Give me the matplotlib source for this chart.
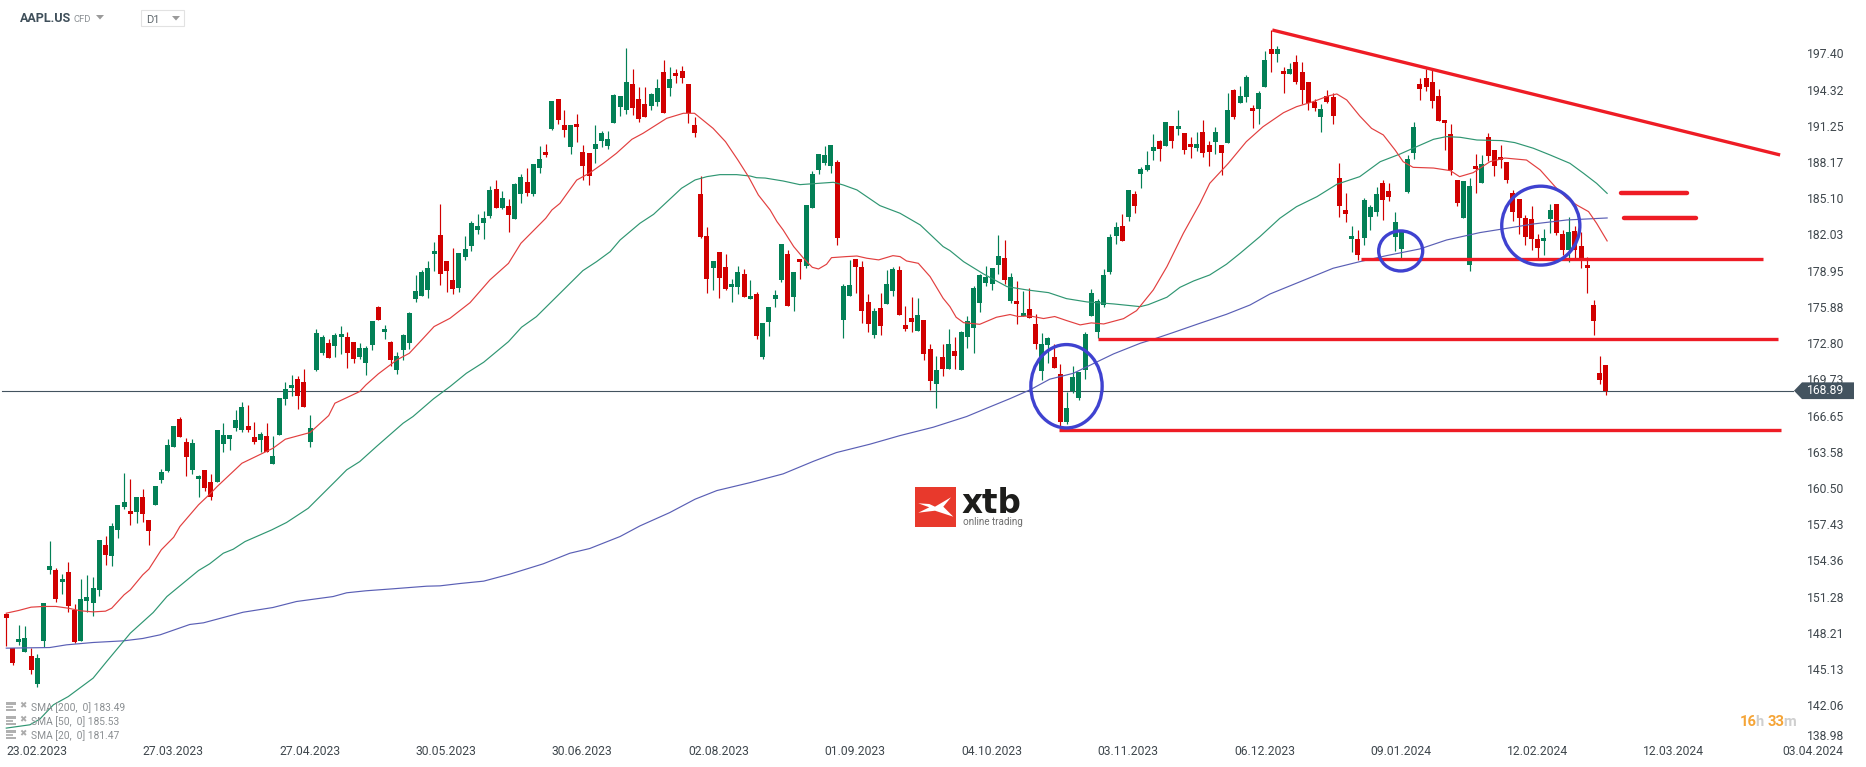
import matplotlib
matplotlib.use("Agg")
import matplotlib.pyplot as plt
from matplotlib.patches import Ellipse, Polygon, Rectangle
from matplotlib.transforms import blended_transform_factory

plt.rcParams['font.family'] = ['Roboto', 'DejaVu Sans']

opens = [149.94,147.03,147.59,146.72,146.38,144.0,147.65,153.68,153.68,152.66,
153.51,150.28,147.65,151.05,150.88,151.98,155.8,154.87,157.07,159.02,
158.69,158.6,159.87,157.92,159.2,161.32,162.08,164.12,166.5,164.55,
162.17,161.4,162.17,161.15,161.15,164.37,164.8,165.73,165.56,165.9,
164.97,164.71,165.05,162.68,165.14,168.2,169.13,169.89,169.64,164.55,
170.66,172.1,172.95,172.7,173.46,173.46,173.03,171.76,171.25,172.78,
176.0,173.88,173.03,170.66,172.35,172.95,176.68,176.94,177.45,180.5,
182.12,179.91,178.3,177.62,180.25,181.18,182.54,183.13,183.73,186.02,
184.41,184.58,183.47,185.6,186.62,185.6,187.8,189.16,191.11,193.66,
191.45,189.59,191.54,189.16,189.08,189.42,190.1,189.67,191.62,192.98,
192.73,194.94,193.66,193.24,193.07,193.41,195.95,194.6,195.87,196.04,
194.94,191.45,185.6,182.03,179.31,180.67,179.4,177.7,177.7,178.8,
176.68,177.11,171.76,174.73,176.68,178.3,180.5,176.85,180.08,179.48,
184.41,187.63,188.23,187.97,188.31,174.9,176.94,180.08,179.4,176.43,
173.63,175.92,176.26,177.36,179.15,174.48,175.07,173.97,174.9,172.44,
169.47,171.76,170.74,172.27,170.66,173.46,174.22,176.35,178.04,177.96,
179.57,180.17,176.52,176.52,175.24,175.84,174.56,170.57,172.78,171.76,
170.32,166.24,168.87,168.28,170.66,175.24,173.88,176.18,178.98,182.03,
182.88,183.65,185.6,187.3,187.64,189.25,190.1,189.68,191.37,191.12,
190.78,189.85,189.51,190.86,189.76,190.02,189.76,189.93,194.43,193.32,
193.83,192.9,192.81,194.68,197.91,197.48,196.04,195.79,196.8,195.96,
195.11,193.41,192.13,193.92,193.83,186.96,184.24,181.78,181.78,181.86,
183.65,184.07,186.53,185.85,181.95,180.93,185.77,189.08,194.94,195.45,
195.11,193.92,191.88,190.69,186.79,183.56,179.57,187.97,186.53,190.44,
189.33,188.74,188.31,185.68,185.17,183.56,183.47,181.78,181.61,183.47,
184.75,182.2,180.84,182.46,181.18,179.57,176.17,170.4,171.08]

closes = [149.55,145.81,147.82,147.91,145.19,146.21,150.88,154.02,151.22,152.91,
150.62,147.54,151.22,151.39,152.15,156.23,154.95,157.41,159.2,159.45,
158.43,159.87,158.43,156.99,160.81,161.99,164.29,165.9,164.97,163.27,
164.46,161.66,160.64,159.87,165.56,165.14,165.14,166.41,167.52,165.56,
164.55,165.22,163.7,163.36,168.28,169.04,169.38,168.45,167.52,165.73,
173.8,173.46,171.68,173.63,173.71,172.1,171.6,172.52,172.52,174.82,
174.9,174.14,171.51,171.85,173.63,175.5,177.36,178.98,179.32,180.76,
178.81,179.06,177.53,180.59,180.93,183.13,182.88,183.56,185.94,184.41,
185.26,183.81,186.45,187.04,185.68,188.14,188.57,188.91,193.49,191.88,
191.03,191.45,191.28,187.97,187.12,189.84,190.77,190.27,194.0,193.92,
195.1,192.9,191.96,192.13,194.09,194.6,192.47,195.36,195.61,195.45,
192.47,190.77,181.95,178.38,179.91,178.46,177.53,177.96,178.97,176.85,
176.94,173.54,174.64,176.0,177.02,181.35,176.09,178.97,179.82,184.66,
187.29,188.99,188.91,189.76,181.86,177.79,177.87,179.4,175.66,174.56,
175.66,174.39,177.96,179.23,175.33,174.14,174.73,175.33,172.02,169.72,
170.66,170.74,172.86,171.85,173.88,174.82,177.62,178.72,178.55,179.32,
180.34,178.3,178.55,176.26,175.5,175.07,172.86,172.86,173.37,170.83,
166.24,167.43,170.06,170.49,173.71,177.19,176.52,178.72,181.95,182.8,
181.61,185.94,184.58,187.72,188.06,189.59,189.42,191.71,190.1,191.37,
189.34,189.59,189.85,189.08,189.17,190.86,189.08,192.73,192.13,193.92,
195.53,192.64,194.17,196.97,197.48,197.91,195.79,196.21,195.11,194.43,
193.32,192.9,192.81,193.41,192.22,184.58,183.9,182.03,180.42,185.09,
184.49,185.6,185.09,185.34,183.22,182.37,188.57,191.29,194.51,194.68,
193.49,191.8,191.63,187.64,184.83,186.7,186.28,187.72,188.14,188.82,
187.97,188.48,186.79,184.07,183.56,181.95,181.78,181.01,181.86,184.24,
182.29,180.84,182.37,180.84,179.99,179.32,174.81,169.81,168.89]

highs = [150.0,147.03,149.01,148.92,147.06,146.55,150.88,156.14,153.85,153.34,
154.36,150.79,152.91,153.25,153.08,156.23,156.57,157.67,159.2,161.91,
161.4,159.87,160.55,157.92,160.81,162.25,164.8,165.9,166.67,164.89,
164.8,161.74,162.17,161.83,165.56,166.16,165.14,167.26,167.94,167.69,
166.24,165.4,166.16,165.05,168.28,169.64,170.23,170.15,170.74,166.84,
174.14,173.63,173.29,173.8,174.39,173.88,173.03,172.95,172.7,174.82,
176.09,174.48,173.12,172.18,173.71,175.58,178.72,179.15,179.91,181.52,
184.75,179.91,181.01,180.59,182.03,183.3,183.9,184.15,186.28,186.79,
185.85,185.17,186.53,187.3,187.8,188.14,189.67,189.84,193.49,193.66,
192.73,191.45,192.39,189.76,189.08,191.45,190.95,190.95,194.09,193.92,
197.99,196.21,194.68,194.68,194.17,195.36,196.97,196.38,196.21,196.46,
194.94,192.13,187.12,182.79,179.91,180.67,180.5,178.38,179.48,179.23,
178.3,177.28,174.64,176.0,177.45,181.35,180.84,178.97,180.08,184.66,
187.55,188.99,189.67,189.76,188.48,177.96,179.99,180.08,179.91,177.11,
175.92,177.19,179.14,179.4,179.49,176.09,176.85,176.77,174.9,172.86,
171.85,172.86,174.14,173.46,174.0,175.24,177.79,178.8,179.49,179.32,
182.12,181.69,178.89,178.21,177.36,177.62,175.41,173.8,173.46,172.86,
171.17,168.79,171.0,170.49,173.88,177.53,176.68,179.23,182.2,183.22,
183.9,185.94,185.86,187.89,189.25,190.69,190.19,191.71,191.37,192.73,
190.78,190.44,190.86,191.88,190.1,191.29,189.76,194.17,194.51,194.77,
195.7,193.15,194.34,197.74,199.52,198.16,196.38,196.72,197.4,196.8,
195.11,193.66,193.24,194.43,194.17,188.23,185.68,182.88,182.54,185.26,
184.66,186.19,186.79,186.53,184.07,182.37,188.91,191.71,195.45,196.21,
196.12,194.51,191.88,191.54,186.79,186.7,186.96,188.99,188.91,190.78,
189.33,189.76,188.31,185.94,185.17,183.81,184.58,182.2,182.63,184.75,
184.75,182.54,183.65,182.88,182.37,180.25,176.6,171.84,171.08]

lows = [147.17,145.61,147.31,146.72,144.85,143.75,147.14,153.34,150.96,151.64,
150.11,147.45,147.65,150.11,149.77,151.47,154.1,154.02,156.4,158.85,
157.5,157.67,157.75,155.8,159.2,161.06,161.99,164.12,164.97,161.66,
161.83,159.87,160.38,159.62,161.15,163.7,163.87,165.48,165.4,165.4,
164.37,163.7,163.7,162.68,165.14,167.69,168.45,167.35,167.52,164.12,
170.57,171.93,171.68,171.76,172.0,170.83,171.25,171.6,170.23,172.35,
174.9,173.29,171.0,170.32,171.51,172.44,176.43,176.94,176.77,179.06,
177.87,177.28,177.11,177.28,180.0,180.76,182.2,181.78,183.56,184.41,
184.32,182.37,183.47,184.83,185.43,185.43,187.38,188.74,191.03,191.54,
190.44,189.0,190.01,186.79,186.36,188.23,189.59,189.42,191.62,192.22,
192.39,192.3,191.71,192.13,192.73,193.07,192.47,193.92,195.02,195.02,
191.62,190.44,181.86,177.19,177.45,176.77,177.45,176.43,177.11,176.85,
176.68,173.29,171.59,173.54,176.0,178.13,176.09,175.66,178.38,179.31,
184.41,187.29,188.06,187.38,181.27,173.37,176.94,177.19,174.64,173.88,
173.37,173.63,176.26,176.94,175.33,173.97,173.88,173.97,171.5,168.96,
167.43,170.15,170.74,170.74,170.66,172.52,172.1,175.58,177.79,177.45,
178.8,177.96,176.35,174.56,175.24,175.07,172.44,169.81,171.25,170.83,
165.9,166.07,168.7,168.11,169.89,175.24,173.37,176.01,178.8,181.35,
181.61,183.31,184.0,186.11,187.55,188.49,188.4,189.68,189.51,190.61,
189.0,188.66,189.25,188.74,187.98,189.0,187.21,189.93,191.96,193.32,
193.41,191.2,191.54,194.68,195.96,196.8,194.17,195.79,194.94,193.24,
192.73,192.64,190.86,193.32,191.54,183.65,183.22,180.67,180.0,181.27,
182.54,183.73,183.39,185.0,180.76,180.08,185.68,188.57,193.58,194.34,
192.9,191.8,189.33,187.21,184.58,183.56,179.06,185.68,186.53,188.4,
187.13,187.8,186.53,183.31,182.2,181.27,180.84,179.99,180.42,182.29,
182.12,180.42,179.82,179.99,179.31,177.19,173.63,169.47,168.53]

sma20_bar = [0,2,4,6,8,10,12,14,16,17,19,20,22,23,25,27,28,31,33,34,38,43,45,49,52,53,57,58,60,63,65,67,69,71.56,
74.8,78,81,83,87,88,89.3,92,94,96.3,98.4,100.9,102.7,106.5,109.2,111,114,116,118,119.7,121.3,123.2,124.3,125.3,127,128.6,130,131,132.3,133.1,135.5,137.2,138.8,140.7,143,144.15,
145.2,147.1,149,151.1,152.2,153.2,154.4,157,159.7,161.9,163.2,165.1,167.3,169.1,171,173.2,175,177,180.2,182.3,185,187.2,189.85,192.53,
194.1,197.1,200,202.7,206,208.1,210.8,213.2,214.6,216.2,218.3,220.2,222.1,224,225.3,226.9,230.2,232.9,234.4,236.6,239.3,241.7,245.2,247.4,249.8,251.7,253.3,255.2,256.5,258.2]
sma20_val = [150.0,150.23,150.51,150.57,150.57,150.42,150.2,150.11,150.17,150.42,151.56,151.98,153.25,153.74,155.38,156.45,157.36,159.2,160.2,160.75,162.73,164.0,164.77,165.34,166.78,167.83,168.82,169.38,170.32,171.51,172.07,173.2,174.34,175.04,
176.37,178.3,179.71,181.41,183.53,184.24,184.8,186.78,187.35,188.2,189.05,190.24,190.75,192.02,192.45,192.45,191.17,190.04,188.48,187.07,185.51,184.24,183.25,182.54,181.13,180.13,179.37,179.23,179.63,180.19,180.28,180.33,180.14,180.0,180.36,180.28,
179.91,179.71,178.58,176.74,176.03,175.13,174.67,174.53,175.13,175.36,175.19,175.24,175.02,175.19,174.85,174.48,174.65,174.56,175.01,175.69,177.45,179.43,182.26,184.8,
186.5,188.2,190.04,191.31,192.5,193.01,193.44,193.92,194.09,193.58,192.22,191.17,190.61,189.33,188.34,187.86,187.8,187.58,187.07,187.41,188.34,188.65,188.48,187.64,186.22,185.23,184.66,184.1,183.11,181.61]

sma50_bar = [0,3.8,5.4,7.6,10,14,16.2,20,23.7,25.9,31,32.8,35,36.6,38.5,42.8,45.2,48.7,53.3,54.9,57,59.7,64,65.6,68.9,71.56,
74.2,77,81,83.1,85.5,89.3,93,95.2,97.4,99,102.2,104.4,108.9,111.1,113,115.1,117.8,120,121,122.4,125.3,128,129.6,133.4,135,137.2,140.9,144.15,
147.4,151.1,152.2,154.4,157.6,161.4,164.6,168.1,171,174.3,178.6,182.9,184.2,187.2,189.3,191.5,194.1,196.8,199,202.2,205.4,208.1,211.4,214.6,218.3,221.6,224.8,227.5,230.2,232.3,234.5,237.2,241.2,243.3,246.3,249,252.2,254.4,256.5,258.2]
sma50_val = [140.24,140.52,141.0,142.22,142.92,144.48,145.9,148.3,150.06,151.41,153.62,154.19,155.09,155.43,156.08,157.07,157.7,158.91,161.32,162.17,162.87,164.15,166.13,166.7,168.2,169.24,
170.37,171.31,173.06,174.28,175.18,177.16,179.09,179.85,180.7,181.69,183.11,183.87,186.08,186.79,187.07,187.24,187.24,187.12,186.98,186.95,186.7,186.39,186.45,186.59,186.36,185.94,184.61,183.96,
182.97,181.13,180.79,179.85,178.81,177.73,177.45,177.22,176.71,176.43,176.26,176.03,176.2,176.83,177.67,178.21,178.72,179.63,180.56,181.98,183.53,184.52,185.37,186.42,187.07,188.34,188.99,189.62,190.24,190.47,190.41,190.18,190.13,189.96,189.48,188.91,188.2,187.35,186.5,185.65]

sma200_bar = [0,7,9.7,14,18.9,22,24.8,29.6,31.8,35,38.2,43,46.8,52.7,54.9,58,62.4,67.8,69.95,73.2,77,81.2,86.6,90.9,94.1,99,102.2,107,111.1,114.6,120,125.3,130.2,133.9,139.3,144.15,
149.5,154.9,158.1,161.9,165.1,168.3,172.1,178.6,182.9,185.5,188.2,192.53,196.8,200.6,203.8,208.7,214,218.3,222.6,228,232.3,237.7,242,246.3,251.7,258.2]
sma200_val = [147.03,147.08,147.31,147.51,147.65,147.85,148.16,149.04,149.18,149.63,150.08,150.48,150.99,151.41,151.73,151.9,152.07,152.29,152.32,152.52,152.72,153.31,154.19,155.09,155.49,156.51,157.41,158.54,159.68,160.41,161.09,161.83,162.9,163.64,164.35,165.08,
165.79,166.7,167.4,168.22,168.96,169.87,170.37,172.02,172.92,173.35,173.83,174.62,175.38,176.17,177.1,178.15,179.29,179.85,180.36,180.93,181.69,182.32,182.68,183.05,183.39,183.56]

price_ticks = [197.40,194.32,191.25,188.17,185.10,182.03,178.95,175.88,172.80,169.73,166.65,163.58,160.50,157.43,154.36,151.28,148.21,145.13,142.06,138.98]
date_labels = ['23.02.2023','27.03.2023','27.04.2023','30.05.2023','30.06.2023','02.08.2023','01.09.2023','04.10.2023','03.11.2023','06.12.2023','09.01.2024','12.02.2024','12.03.2024','03.04.2024']
date_bars = [0,22,44,66,88,110,132,154,176,198,220,242,264,286.4]
last_price = 168.89

trend_bars = [204.2, 286.1]
trend_vals = [199.52, 188.91]
level_vals = [180.05, 173.26, 165.54, 185.66, 183.54]
level_from = [218.5, 176.1, 169.8, 260.5, 260.9]
level_to = [283.4, 285.8, 286.3, 271.0, 272.6]
circle_bars = [171.0, 224.9, 247.5]
circle_vals = [169.27, 180.76, 182.91]
circle_w = [11.5, 7.1, 12.6]
circle_h = [7.08, 3.4, 6.7]

W, H = 1866, 767
GREEN, RED = '#038056', '#d10000'
INK = '#43535f'
LABEL = '#3f474d'

fig = plt.figure(figsize=(W/100, H/100), dpi=100, facecolor='white')
ax = fig.add_axes([0, 0, 1, 1])
ax.set_xlim((0-6.3)/6.2, (W-6.3)/6.2)
ax.set_ylim(202.07-0.08492*H, 202.07)
for s in ax.spines.values():
    s.set_visible(False)

idx = list(range(len(opens)))
cols = [GREEN if c >= o else RED for o, c in zip(opens, closes)]
ax.plot([-0.7, 288.1], [last_price, last_price], color=INK, lw=0.8, zorder=1)
ax.vlines(idx, lows, highs, colors=cols, lw=0.85, zorder=2)
ax.bar(idx, [abs(c-o) for o, c in zip(opens, closes)], bottom=[min(o, c) for o, c in zip(opens, closes)],
       width=0.8, color=cols, linewidth=0, zorder=2.1, antialiased=False)

ax.plot(sma200_bar, sma200_val, color='#5a5fb5', lw=0.85, zorder=3)
ax.plot(sma50_bar, sma50_val, color='#2f9672', lw=0.85, zorder=3)
ax.plot(sma20_bar, sma20_val, color='#e23f3f', lw=0.85, zorder=3)

LINE_RED = '#ee1c25'
ax.plot(trend_bars, trend_vals, color=LINE_RED, lw=2.4, zorder=4, solid_capstyle='butt')
for i, (v, a, b) in enumerate(zip(level_vals, level_from, level_to)):
    thick = i >= 3
    ax.plot([a, b], [v, v], color=LINE_RED, lw=3.2 if thick else 2.4, zorder=4,
            solid_capstyle='round' if thick else 'butt')
for b, v, w, h in zip(circle_bars, circle_vals, circle_w, circle_h):
    ax.add_patch(Ellipse((b, v), w, h, fill=False, edgecolor='#3f42d0', lw=2.4, zorder=4.2))

# axes
ax.yaxis.tick_right()
ax.set_yticks(price_ticks)
ax.set_yticklabels([f'{p:.2f}' for p in price_ticks], fontsize=8.7, color=LABEL)
ax.tick_params(axis='y', length=0, pad=-42.6)
for lab in ax.get_yticklabels():
    lab.set_horizontalalignment('left')
    lab.set_verticalalignment('center')
ax.get_yticklabels()[-1].set_verticalalignment('bottom')
ax.set_xticks(date_bars)
ax.set_xticklabels(date_labels, fontsize=8.7, color=LABEL, ha='left')
ax.tick_params(axis='x', length=0, pad=-15.5)

# last price tag
bt = blended_transform_factory(ax.transAxes, ax.transData)
def fx(px):
    return px / W
tag = Polygon([(fx(1794), last_price), (fx(1802), last_price+0.71), (fx(1854), last_price+0.71),
               (fx(1854), last_price-0.71), (fx(1802), last_price-0.71)], closed=True,
              facecolor=INK, edgecolor='none', transform=bt, zorder=6, clip_on=False)
ax.add_patch(tag)
ax.text(fx(1807), last_price, f'{last_price:.2f}', transform=bt, color='white', fontsize=8.7,
        va='center', ha='left', zorder=7)

def tx(px, py, s, **kw):
    kw.setdefault('va', 'center')
    kw.setdefault('ha', 'left')
    return fig.text(px/W, 1-py/H, s, **kw)
def pts(seq):
    return [(x/W, 1-y/H) for x, y in seq]
def poly(seq, **kw):
    fig.add_artist(Polygon(pts(seq), closed=True, transform=fig.transFigure, **kw))
def rect(x0, y0, x1, y1, **kw):
    fig.add_artist(Rectangle((x0/W, 1-y1/H), (x1-x0)/W, (y1-y0)/H, transform=fig.transFigure, **kw))

# header
tx(20, 19, 'AAPL.US', fontsize=9.0, fontweight='bold', color='#3f4f5a')
tx(73, 19.5, 'CFD', fontsize=6.8, color='#8a8f93')
poly([(96, 15), (104, 15), (100, 19.5)], facecolor='#9a9a9a', edgecolor='none')
rect(140.5, 10.5, 183.5, 25.5, facecolor='white', edgecolor='#e2e2e2', lw=0.8)
tx(146, 20, 'D1', fontsize=8.0, color='#60686d')
poly([(172, 16), (180, 16), (176, 20.5)], facecolor='#9a9a9a', edgecolor='none')

# indicator legend
legend_rows = ['SMA [200,  0] 183.49', 'SMA [50,  0] 185.53', 'SMA [20,  0] 181.47']
for i, s in enumerate(legend_rows):
    y = 707.5 + 14*i
    tx(31, y, s, fontsize=7.4, color='#8b8f92', zorder=8)
    rect(6, y-6, 16, y-2.5, facecolor='#b0b0b0', edgecolor='none')
    rect(6, y-1.5, 13, y+0.5, facecolor='#b8b8b8', edgecolor='none')
    rect(6, y+1.5, 16, y+3.5, facecolor='#b0b0b0', edgecolor='none')
    tx(19.5, y-2, '\u2716', fontsize=6.3, color='#ababab', family=['DejaVu Sans'])

# timer
for px, s, c in [(1740, '16', '#f5a436'), (1755, 'h', '#cfcfcf'), (1768, '33', '#f5a436'), (1783, 'm', '#cfcfcf')]:
    tx(px, 722, s, fontsize=10.6, color=c, fontweight='bold')

# logo
rect(915, 487, 955.7, 527, facecolor='#e8392c', edgecolor='none')
poly([(918.3, 503.3), (929.3, 504), (935, 506.7), (951, 497.3), (943.3, 506.7), (953.3, 516.7),
      (935, 510.7), (918.3, 512.7), (929.3, 507.3)], facecolor='white', edgecolor='none')
tx(962, 503.5, 'xtb', fontsize=23.5, fontweight='bold', color='#1d1d1b', family=['DejaVu Sans'], va='center')
tx(963, 522, 'online trading', fontsize=7.1, color='#6f6f6f')

fig.savefig('out.png', dpi=100, facecolor='white')
